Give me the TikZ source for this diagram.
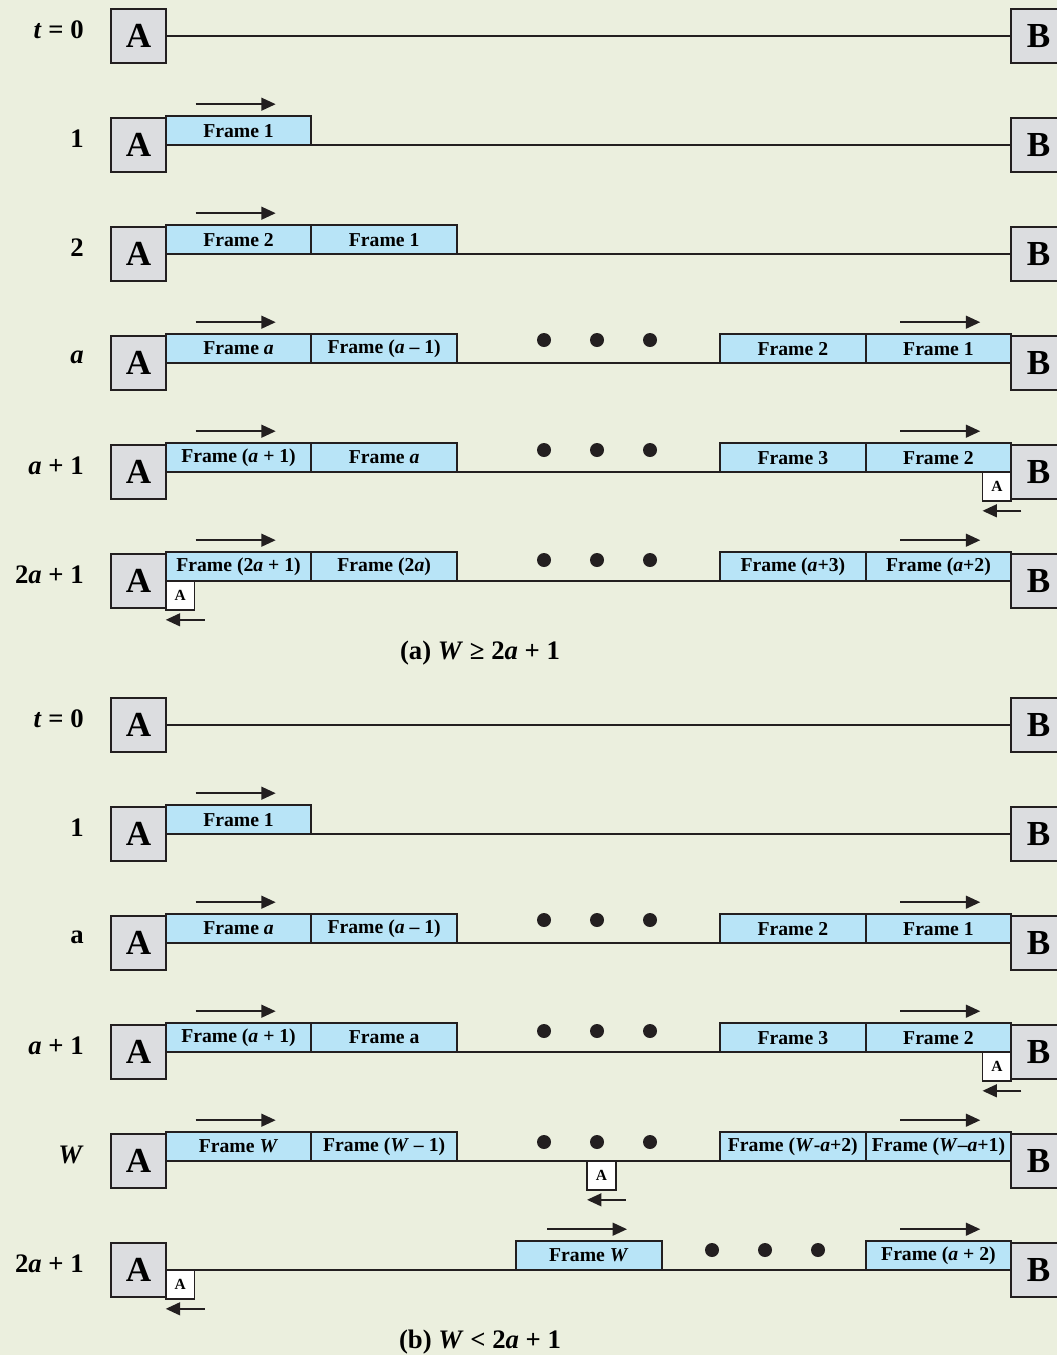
\documentclass[tikz,border=0pt]{standalone}
\usepackage{fontspec}
\setmainfont{Liberation Serif}
\usepackage{tikz}
\usetikzlibrary{positioning,arrows.meta,calc}
\definecolor{fondo}{RGB}{235,239,222}
\definecolor{celeste}{RGB}{184,228,247}
\definecolor{grisbox}{RGB}{220,221,224}
\definecolor{tinta}{RGB}{35,31,32}
\newcommand{\fsz}[1]{\fontsize{#1}{#1}\selectfont\bfseries}

\begin{document}
\begin{tikzpicture}[x=0.025cm, y=-0.025cm,
  estacion/.style={draw=tinta, line width=1.3pt, fill=grisbox,
    minimum size=1.36cm, inner sep=0pt, outer sep=0pt, font=\fsz{25}},
  trama/.style={draw=tinta, line width=1.3pt, fill=celeste,
    minimum width=3.64cm, minimum height=0.72cm, inner sep=0pt,
    outer sep=0pt, font=\fsz{14}},
  ack/.style={draw=tinta, line width=1.2pt, fill=white,
    minimum size=0.72cm, inner sep=0pt, outer sep=0pt, font=\fsz{11}},
  tiempo/.style={anchor=east, inner sep=0pt, font=\fsz{19}},
  punto/.style={circle, fill=tinta, minimum size=0.35cm, inner sep=0pt},
  enlace/.style={draw=tinta, line width=1pt},
  flecha/.style={-{Triangle[length=3.6mm,width=3.2mm]}, draw=tinta,
    line width=1.4pt},
  pie/.style={font=\fsz{19}}
]
\fill[fondo] (0,0) rectangle (1057,1355);
\useasboundingbox (0,0) rectangle (1057,1355);
% (a) t = 0
\node[estacion] (A0) at (138.5,36) {A};
\node[estacion] (B0) at (1038.5,36) {B};
\node[tiempo] (t0) at (84,30) {\textit{t} = 0};
\draw[enlace] (A0) -- (B0);
% (a) 1
\node[estacion] (A1) at (138.5,145) {A};
\node[estacion] (B1) at (1038.5,145) {B};
\node[tiempo] (t1) at (84,139) {1};
\draw[enlace] (A1) -- (B1);
\node[trama, anchor=south west] (f11) at (A1.east) {Frame 1};
\draw[flecha] ($(f11.north west)+(30,-12)$) -- ++(80,0);
% (a) 2
\node[estacion] (A2) at (138.5,254) {A};
\node[estacion] (B2) at (1038.5,254) {B};
\node[tiempo] (t2) at (84,248) {2};
\draw[enlace] (A2) -- (B2);
\node[trama, anchor=south west] (f21) at (A2.east) {Frame 2};
\node[trama, right=0pt of f21] (f22) {Frame 1};
\draw[flecha] ($(f21.north west)+(30,-12)$) -- ++(80,0);
% (a) a
\node[estacion] (A3) at (138.5,363) {A};
\node[estacion] (B3) at (1038.5,363) {B};
\node[tiempo] (t3) at (84,357) {\textit{a}};
\draw[enlace] (A3) -- (B3);
\node[trama, anchor=south west] (f31) at (A3.east) {Frame \textit{a}};
\node[trama, right=0pt of f31] (f32) {Frame (\textit{a} – 1)};
\node[trama, anchor=south east] (f34) at (B3.west) {Frame 1};
\node[trama, left=0pt of f34] (f33) {Frame 2};
\node[punto] (d31) at (544,340) {};
\node[punto] (d32) at (597,340) {};
\node[punto] (d33) at (650,340) {};
\draw[flecha] ($(f31.north west)+(30,-12)$) -- ++(80,0);
\draw[flecha] ($(f34.north east)+(-111,-12)$) -- ++(80,0);
% (a) a + 1
\node[estacion] (A4) at (138.5,472) {A};
\node[estacion] (B4) at (1038.5,472) {B};
\node[tiempo] (t4) at (84,466) {\textit{a} + 1};
\draw[enlace] (A4) -- (B4);
\node[trama, anchor=south west] (f41) at (A4.east) {Frame (\textit{a} + 1)};
\node[trama, right=0pt of f41] (f42) {Frame \textit{a}};
\node[trama, anchor=south east] (f44) at (B4.west) {Frame 2};
\node[trama, left=0pt of f44] (f43) {Frame 3};
\node[punto] (d41) at (544,450) {};
\node[punto] (d42) at (597,450) {};
\node[punto] (d43) at (650,450) {};
\draw[flecha] ($(f41.north west)+(30,-12)$) -- ++(80,0);
\draw[flecha] ($(f44.north east)+(-111,-12)$) -- ++(80,0);
\node[ack, anchor=north east] (k4) at (B4.west) {A};
\draw[flecha] ($(k4.south east)+(10,10)$) -- ($(k4.south west)+(0,10)$);
% (a) 2a + 1
\node[estacion] (A5) at (138.5,581) {A};
\node[estacion] (B5) at (1038.5,581) {B};
\node[tiempo] (t5) at (84,575) {2\textit{a} + 1};
\draw[enlace] (A5) -- (B5);
\node[trama, anchor=south west] (f51) at (A5.east) {Frame (2\textit{a} + 1)};
\node[trama, right=0pt of f51] (f52) {Frame (2\textit{a})};
\node[trama, anchor=south east] (f54) at (B5.west) {Frame (\textit{a}+2)};
\node[trama, left=0pt of f54] (f53) {Frame (\textit{a}+3)};
\node[punto] (d51) at (544,560) {};
\node[punto] (d52) at (597,560) {};
\node[punto] (d53) at (650,560) {};
\draw[flecha] ($(f51.north west)+(30,-12)$) -- ++(80,0);
\draw[flecha] ($(f54.north east)+(-111,-12)$) -- ++(80,0);
\node[ack, anchor=north west] (k5) at (A5.east) {A};
\draw[flecha] ($(k5.south east)+(10,10)$) -- ($(k5.south west)+(0,10)$);
\node[pie] (pa) at (480,653) {(a) \textit{W} ≥ 2\textit{a} + 1};
% (b) t = 0
\node[estacion] (A6) at (138.5,725) {A};
\node[estacion] (B6) at (1038.5,725) {B};
\node[tiempo] (t6) at (84,719) {\textit{t} = 0};
\draw[enlace] (A6) -- (B6);
% (b) 1
\node[estacion] (A7) at (138.5,834) {A};
\node[estacion] (B7) at (1038.5,834) {B};
\node[tiempo] (t7) at (84,828) {1};
\draw[enlace] (A7) -- (B7);
\node[trama, anchor=south west] (f71) at (A7.east) {Frame 1};
\draw[flecha] ($(f71.north west)+(30,-12)$) -- ++(80,0);
% (b) a
\node[estacion] (A8) at (138.5,943) {A};
\node[estacion] (B8) at (1038.5,943) {B};
\node[tiempo] (t8) at (84,937) {a};
\draw[enlace] (A8) -- (B8);
\node[trama, anchor=south west] (f81) at (A8.east) {Frame \textit{a}};
\node[trama, right=0pt of f81] (f82) {Frame (\textit{a} – 1)};
\node[trama, anchor=south east] (f84) at (B8.west) {Frame 1};
\node[trama, left=0pt of f84] (f83) {Frame 2};
\node[punto] (d81) at (544,920) {};
\node[punto] (d82) at (597,920) {};
\node[punto] (d83) at (650,920) {};
\draw[flecha] ($(f81.north west)+(30,-12)$) -- ++(80,0);
\draw[flecha] ($(f84.north east)+(-111,-12)$) -- ++(80,0);
% (b) a + 1
\node[estacion] (A9) at (138.5,1052) {A};
\node[estacion] (B9) at (1038.5,1052) {B};
\node[tiempo] (t9) at (84,1046) {\textit{a} + 1};
\draw[enlace] (A9) -- (B9);
\node[trama, anchor=south west] (f91) at (A9.east) {Frame (\textit{a} + 1)};
\node[trama, right=0pt of f91] (f92) {Frame a};
\node[trama, anchor=south east] (f94) at (B9.west) {Frame 2};
\node[trama, left=0pt of f94] (f93) {Frame 3};
\node[punto] (d91) at (544,1031) {};
\node[punto] (d92) at (597,1031) {};
\node[punto] (d93) at (650,1031) {};
\draw[flecha] ($(f91.north west)+(30,-12)$) -- ++(80,0);
\draw[flecha] ($(f94.north east)+(-111,-12)$) -- ++(80,0);
\node[ack, anchor=north east] (k9) at (B9.west) {A};
\draw[flecha] ($(k9.south east)+(10,10)$) -- ($(k9.south west)+(0,10)$);
% (b) W
\node[estacion] (A10) at (138.5,1161) {A};
\node[estacion] (B10) at (1038.5,1161) {B};
\node[tiempo] (t10) at (84,1155) {\textit{W}};
\draw[enlace] (A10) -- (B10);
\node[trama, anchor=south west] (f101) at (A10.east) {Frame \textit{W}};
\node[trama, right=0pt of f101] (f102) {Frame (\textit{W} – 1)};
\node[trama, anchor=south east] (f104) at (B10.west) {Frame (\textit{W}–\textit{a}+1)};
\node[trama, left=0pt of f104] (f103) {Frame (\textit{W}-\textit{a}+2)};
\node[punto] (d101) at (544,1142) {};
\node[punto] (d102) at (597,1142) {};
\node[punto] (d103) at (650,1142) {};
\draw[flecha] ($(f101.north west)+(30,-12)$) -- ++(80,0);
\draw[flecha] ($(f104.north east)+(-111,-12)$) -- ++(80,0);
\node[ack, anchor=north west] (k10) at (587,1161) {A};
\draw[flecha] ($(k10.south east)+(10,10)$) -- ($(k10.south west)+(0,10)$);
% (b) 2a + 1
\node[estacion] (A11) at (138.5,1270) {A};
\node[estacion] (B11) at (1038.5,1270) {B};
\node[tiempo] (t11) at (84,1264) {2\textit{a} + 1};
\draw[enlace] (A11) -- (B11);
\node[trama, anchor=south west] (f111) at (516,1270) {Frame \textit{W}};
\node[trama, anchor=south east] (f112) at (B11.west) {Frame (\textit{a} + 2)};
\node[punto] (d111) at (712,1250) {};
\node[punto] (d112) at (765,1250) {};
\node[punto] (d113) at (818,1250) {};
\draw[flecha] ($(f111.north west)+(31,-12)$) -- ++(80,0);
\draw[flecha] ($(f112.north east)+(-111,-12)$) -- ++(80,0);
\node[ack, anchor=north west] (k11) at (A11.east) {A};
\draw[flecha] ($(k11.south east)+(10,10)$) -- ($(k11.south west)+(0,10)$);
\node[pie] (pb) at (480,1342) {(b) \textit{W} < 2\textit{a} + 1};
\end{tikzpicture}
\end{document}
